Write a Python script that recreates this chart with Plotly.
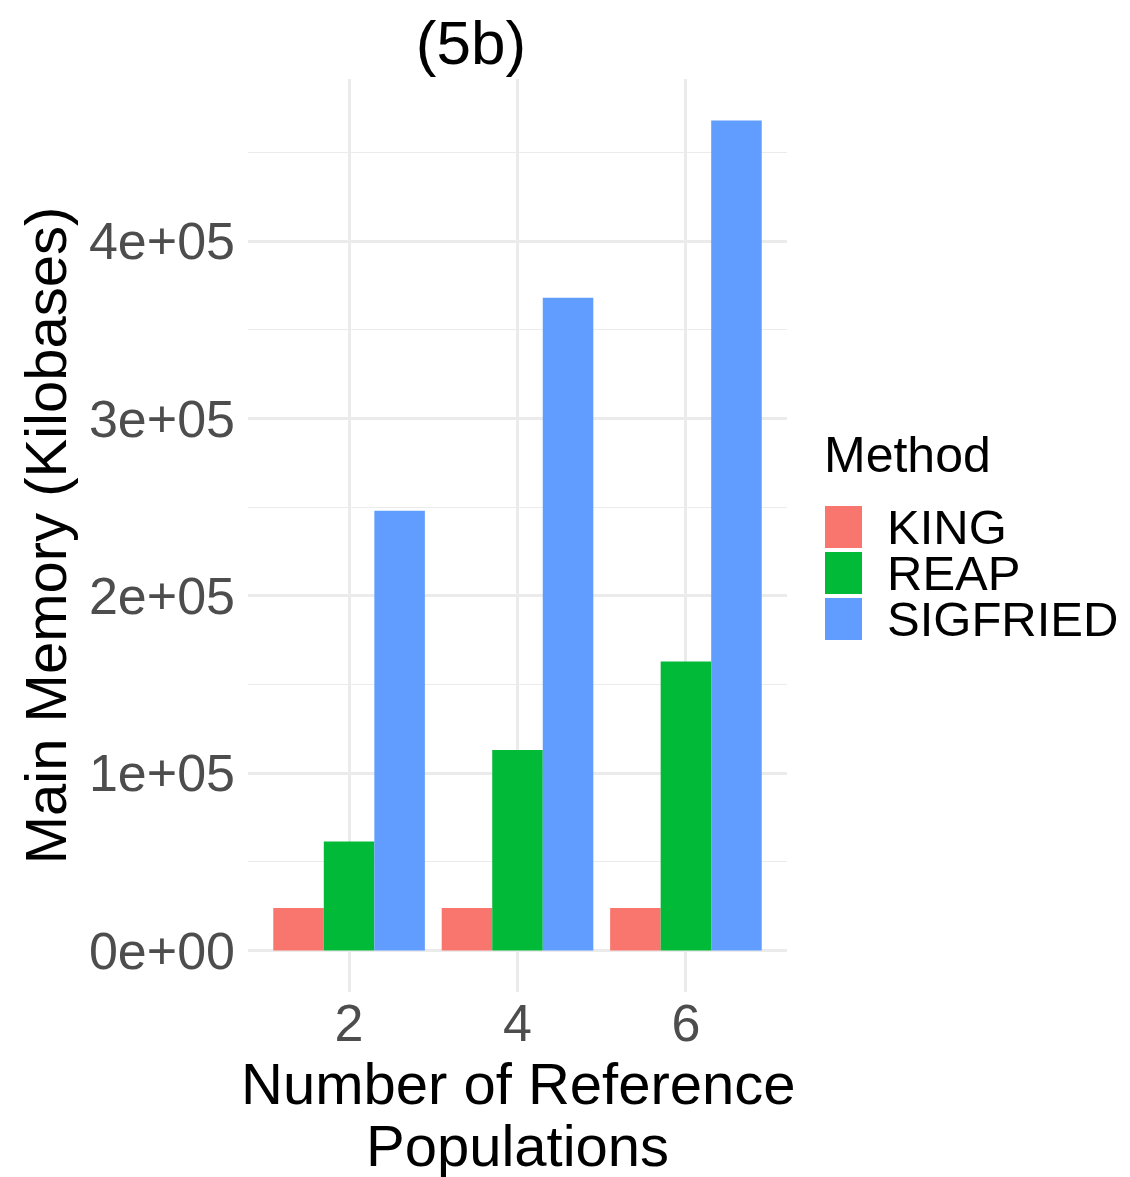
import plotly.graph_objects as go

categories = ["2", "4", "6"]
methods = ["KING", "REAP", "SIGFRIED"]
king = [24000, 24000, 24000]
reap = [61500, 113000, 163000]
sigfried = [248000, 368000, 468000]
colors = ["#F8766D", "#00BA38", "#619CFF"]
ytick_vals = [0, 100000, 200000, 300000, 400000]
ytick_text = ["0e+00", "1e+05", "2e+05", "3e+05", "4e+05"]
yminor_vals = [50000, 150000, 250000, 350000, 450000]

FONT = "Liberation Sans, Arial, sans-serif"
series = [king, reap, sigfried]

fig = go.Figure()
for name, vals, col in zip(methods, series, colors):
    fig.add_trace(go.Bar(x=categories, y=vals, name=name, marker=dict(color=col, line=dict(width=0)),
                         showlegend=False))

W, H = 1130, 1177
L, R, T, B = 248, 787, 79, 992


def px_x(px):
    return (px - L) / (R - L)


def px_y(py):
    return (B - py) / (B - T)


ymax = max(max(s) for s in series)
yr = [-0.05 * ymax, 1.05 * ymax]

fig.update_layout(
    width=W, height=H,
    margin=dict(l=L, r=W - R, t=T, b=H - B, autoexpand=False),
    paper_bgcolor="white", plot_bgcolor="white",
    barmode="group", bargap=0.1, bargroupgap=0,
    font=dict(family=FONT),
    title=dict(text="(5b)", x=(471) / W, xanchor="center", y=1 - 42 / H, yanchor="middle",
               font=dict(size=62, color="black", family=FONT)),
    xaxis=dict(type="category", range=[-0.6, 2.6], showgrid=True, gridcolor="#EBEBEB", gridwidth=2.5,
               zeroline=False, showline=False, ticks="", tickfont=dict(size=52, color="#4D4D4D"),
               ticklabelstandoff=-4),
    yaxis=dict(range=yr, tickvals=ytick_vals, ticktext=ytick_text, showgrid=True, gridcolor="#EBEBEB",
               gridwidth=2.5, zeroline=False, showline=False, ticks="",
               tickfont=dict(size=52, color="#4D4D4D"), ticklabelstandoff=12,
               minor=dict(tickvals=yminor_vals, showgrid=True, gridcolor="#EBEBEB", gridwidth=1.3, ticks=""),
               title=dict(text="Main Memory (Kilobases)", font=dict(size=58, color="black"), standoff=3)),
)

# x-axis title (two lines, ggplot line spacing)
cx = px_x((L + R) / 2)
fig.add_annotation(text="Number of Reference", x=cx, y=px_y(1083), xref="paper", yref="paper",
                   showarrow=False, xanchor="center", yanchor="middle",
                   font=dict(size=58, color="black", family=FONT))
fig.add_annotation(text="Populations", x=cx, y=px_y(1145), xref="paper", yref="paper",
                   showarrow=False, xanchor="center", yanchor="middle",
                   font=dict(size=58, color="black", family=FONT))

# legend (drawn manually to match ggplot key size)
fig.add_annotation(text="Method", x=px_x(822), y=px_y(455), xref="paper", yref="paper",
                   showarrow=False, xanchor="left", yanchor="middle",
                   font=dict(size=50, color="black", family=FONT))
key_top = 506
key_h = 46
for i, (name, col) in enumerate(zip(methods, colors)):
    y0 = key_top + i * key_h
    fig.add_shape(type="rect", xref="paper", yref="paper",
                  x0=px_x(825), x1=px_x(862), y0=px_y(y0 + 42), y1=px_y(y0),
                  fillcolor=col, line=dict(width=0))
    fig.add_annotation(text=name, x=px_x(885), y=px_y(y0 + 21), xref="paper", yref="paper",
                       showarrow=False, xanchor="left", yanchor="middle",
                       font=dict(size=49, color="black", family=FONT))

fig.write_html("out.html")
